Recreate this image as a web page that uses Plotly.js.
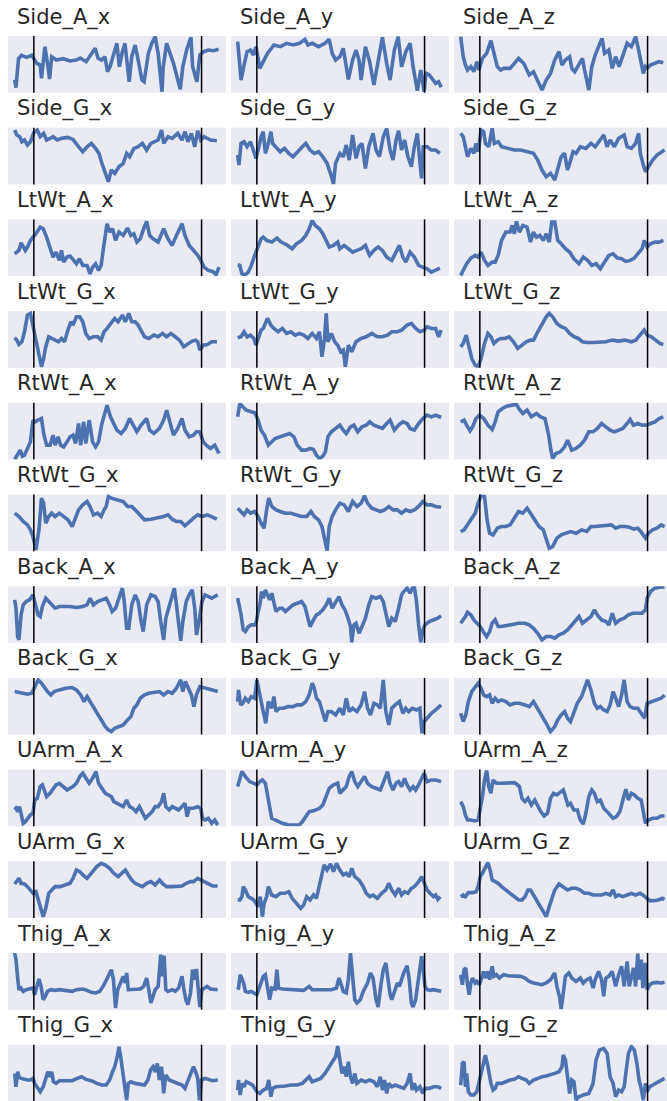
<!DOCTYPE html>
<html>
<head>
<meta charset="utf-8">
<script src="https://cdn.plot.ly/plotly-3.0.1.min.js"></script>
<style>html,body{margin:0;padding:0;background:#fff;}#chart{width:667px;height:1101px;}</style>
</head>
<body>
<div id="chart"></div>
<script>
// Panel titles (row-major, 3 per row)
const titles = [
  'Side_A_x','Side_A_y','Side_A_z','Side_G_x','Side_G_y','Side_G_z',
  'LtWt_A_x','LtWt_A_y','LtWt_A_z','LtWt_G_x','LtWt_G_y','LtWt_G_z',
  'RtWt_A_x','RtWt_A_y','RtWt_A_z','RtWt_G_x','RtWt_G_y','RtWt_G_z',
  'Back_A_x','Back_A_y','Back_A_z','Back_G_x','Back_G_y','Back_G_z',
  'UArm_A_x','UArm_A_y','UArm_A_z','UArm_G_x','UArm_G_y','UArm_G_z',
  'Thig_A_x','Thig_A_y','Thig_A_z','Thig_G_x','Thig_G_y','Thig_G_z'
];
// Event markers (sample index) drawn as vertical lines in every panel
const markers = [45, 439];

// Each series: [sample index, value] pairs (values in relative units, 0..170)
const Side_A_x = [[0,39],[3,15],[9,102],[16,112],[28,106],[40,112],[52,88],[60,83],[63,43],[71,138],[77,88],[82,41],[87,108],[98,98],[114,102],[130,95],[145,98],[154,104],[168,93],[177,112],[189,133],[196,103],[204,98],[212,108],[218,63],[224,78],[233,123],[240,148],[246,78],[252,118],[259,148],[264,78],[269,33],[275,108],[283,143],[290,98],[299,38],[304,33],[314,118],[322,148],[330,168],[337,118],[346,3],[349,78],[357,148],[365,118],[373,88],[389,10],[395,78],[404,128],[414,166],[418,78],[428,33],[435,113],[444,123],[455,128],[467,126],[479,130]];
const Side_A_y = [[0,153],[3,118],[8,38],[15,83],[22,123],[30,128],[37,113],[43,138],[52,73],[60,93],[70,118],[85,143],[100,138],[115,148],[130,143],[145,148],[158,160],[165,143],[175,148],[190,138],[205,148],[215,160],[222,118],[230,98],[240,108],[248,133],[255,78],[260,40],[270,98],[278,128],[285,98],[290,38],[300,138],[310,93],[320,23],[330,98],[340,166],[350,88],[358,38],[368,128],[377,168],[385,78],[395,123],[405,148],[412,78],[422,6],[430,68],[438,3],[442,58],[450,53],[458,38],[465,28],[472,33],[478,16]];
const Side_A_z = [[0,168],[6,108],[11,83],[16,68],[24,78],[31,63],[38,93],[43,68],[51,103],[61,118],[71,156],[79,108],[86,78],[94,68],[101,73],[116,73],[126,88],[136,103],[148,88],[161,53],[171,63],[181,38],[191,8],[201,38],[211,58],[221,98],[231,123],[238,83],[246,98],[256,108],[261,73],[268,63],[276,83],[286,103],[291,68],[301,8],[308,78],[316,113],[324,138],[332,163],[338,118],[348,128],[356,73],[364,108],[372,78],[381,113],[391,148],[401,138],[411,168],[418,128],[424,88],[429,58],[434,78],[438,73],[446,83],[456,88],[466,93],[476,90]];
const Side_G_x = [[0,163],[5,148],[12,143],[17,128],[23,133],[30,118],[37,128],[45,155],[53,163],[60,143],[68,153],[75,133],[83,138],[90,143],[100,133],[110,138],[125,141],[137,135],[150,113],[160,98],[170,113],[180,123],[190,108],[198,93],[205,63],[213,33],[220,8],[227,43],[235,33],[245,53],[255,63],[263,93],[270,83],[280,108],[290,113],[300,123],[310,103],[320,123],[330,128],[337,133],[345,163],[350,123],[360,143],[370,138],[383,153],[393,133],[400,158],[407,128],[415,153],[423,113],[430,161],[437,133],[445,143],[460,133],[475,131]];
const Side_G_y = [[0,88],[3,58],[8,123],[15,128],[22,113],[30,128],[38,98],[43,78],[50,113],[55,143],[60,158],[65,93],[72,123],[78,158],[82,123],[90,113],[100,98],[110,108],[120,93],[130,83],[140,98],[152,113],[160,123],[170,103],[180,93],[190,98],[200,83],[210,63],[218,33],[225,1],[230,63],[240,93],[248,83],[255,118],[262,73],[270,148],[278,78],[285,113],[292,123],[300,48],[308,113],[318,153],[325,103],[333,83],[342,143],[350,168],[358,103],[365,73],[372,133],[378,161],[385,103],[392,133],[400,83],[408,53],[415,113],[422,153],[428,68],[432,18],[436,113],[445,113],[455,103],[465,103],[475,93]];
const Side_G_z = [[0,153],[6,143],[11,113],[16,83],[24,108],[31,93],[36,123],[41,98],[48,163],[54,158],[58,123],[66,113],[74,168],[79,123],[88,128],[96,113],[111,108],[126,103],[141,103],[156,98],[171,93],[181,73],[191,43],[201,23],[211,33],[221,13],[228,43],[236,83],[244,93],[251,43],[256,63],[264,98],[271,93],[281,113],[294,108],[306,123],[316,113],[326,133],[336,148],[344,113],[351,133],[361,113],[371,138],[384,148],[391,113],[401,108],[411,123],[418,153],[422,93],[428,63],[434,38],[441,53],[451,73],[461,88],[471,98],[479,103]];
const LtWt_A_x = [[0,67],[5,72],[10,77],[15,100],[20,87],[25,77],[30,87],[37,107],[43,117],[50,127],[60,147],[67,142],[75,117],[83,87],[90,57],[97,72],[105,47],[110,77],[115,42],[123,57],[130,60],[137,50],[145,37],[152,52],[160,32],[170,32],[177,7],[183,27],[190,37],[197,17],[203,32],[210,97],[217,157],[223,132],[230,142],[237,107],[245,132],[255,122],[265,144],[273,122],[280,127],[287,102],[295,112],[303,142],[310,164],[317,122],[325,112],[337,102],[350,142],[360,112],[370,92],[380,122],[393,157],[400,122],[410,92],[420,77],[430,62],[437,47],[445,27],[455,17],[465,14],[473,4],[480,27]];
const LtWt_A_y = [[0,34],[5,32],[10,7],[18,4],[25,12],[32,32],[40,62],[48,92],[55,112],[60,117],[68,107],[80,102],[92,114],[102,102],[115,94],[128,82],[138,97],[150,107],[160,122],[168,142],[175,167],[182,152],[192,142],[200,127],[208,102],[215,87],[225,92],[235,102],[240,82],[250,92],[260,82],[270,72],[280,77],[290,82],[300,92],[310,62],[320,77],[330,87],[340,77],[350,57],[362,47],[370,67],[380,92],[388,57],[395,42],[405,72],[415,57],[425,32],[435,27],[445,22],[455,12],[465,17],[475,24]];
const LtWt_A_z = [[0,2],[6,17],[14,37],[24,54],[34,62],[41,57],[48,72],[56,47],[64,32],[74,42],[81,42],[88,62],[96,107],[106,132],[116,132],[121,152],[126,127],[131,164],[138,132],[146,152],[156,147],[164,102],[171,132],[178,117],[186,122],[194,107],[201,127],[208,102],[214,162],[221,162],[228,107],[236,97],[246,82],[256,72],[266,52],[278,37],[288,57],[298,47],[308,32],[318,37],[328,22],[338,42],[348,62],[358,67],[368,54],[378,52],[388,44],[398,47],[408,54],[416,67],[426,82],[431,107],[438,87],[446,97],[456,102],[466,102],[476,107]];
const LtWt_G_x = [[0,90],[5,83],[10,70],[17,78],[23,108],[30,158],[37,163],[43,128],[50,78],[57,43],[63,3],[68,28],[73,63],[80,93],[87,88],[95,83],[103,78],[110,88],[117,78],[125,113],[132,138],[137,128],[145,153],[153,153],[160,138],[167,103],[175,88],[185,93],[195,93],[203,83],[210,108],[217,118],[227,133],[235,148],[243,138],[253,158],[260,138],[268,163],[275,138],[283,138],[290,128],[297,113],[305,93],[315,88],[327,98],[337,93],[347,103],[357,93],[367,103],[377,93],[387,83],[397,63],[407,73],[417,80],[425,83],[430,78],[435,53],[443,68],[453,70],[463,78],[475,78]];
const LtWt_G_y = [[0,90],[8,93],[15,108],[22,93],[30,98],[38,88],[43,68],[48,88],[55,113],[60,118],[70,148],[78,128],[85,118],[95,108],[105,118],[115,103],[125,108],[135,98],[145,103],[155,98],[165,88],[175,103],[185,88],[192,108],[198,33],[204,88],[208,163],[212,78],[220,103],[228,78],[235,68],[242,48],[248,53],[253,3],[260,68],[268,48],[278,78],[290,88],[302,93],[315,103],[328,93],[340,93],[352,98],[362,108],[375,108],[385,113],[398,128],[408,133],[418,118],[428,108],[438,113],[445,123],[455,118],[465,118],[472,93],[478,113]];
const LtWt_G_z = [[0,63],[6,73],[13,98],[19,63],[26,28],[34,8],[41,3],[48,28],[56,73],[64,103],[71,93],[78,73],[86,83],[94,88],[104,88],[114,93],[124,78],[134,58],[144,68],[154,78],[164,83],[171,83],[181,108],[191,133],[201,153],[208,163],[216,153],[226,133],[236,123],[246,118],[256,103],[266,93],[276,88],[286,78],[296,76],[311,76],[326,78],[341,78],[356,83],[371,80],[386,83],[401,78],[411,83],[421,98],[431,113],[438,98],[448,93],[458,83],[468,73],[476,70]];
const RtWt_A_x = [[0,0],[5,13],[13,28],[18,10],[23,13],[30,33],[37,53],[43,118],[48,113],[55,118],[63,123],[68,78],[75,43],[83,43],[90,73],[95,43],[102,68],[108,43],[115,38],[123,53],[130,68],[137,73],[143,48],[150,108],[155,43],[162,113],[167,48],[175,118],[183,53],[190,38],[197,53],[205,108],[213,148],[217,163],[225,128],[233,103],[240,88],[250,78],[260,93],[270,123],[278,103],[287,83],[297,103],[310,123],[317,88],[327,78],[340,93],[350,118],[357,148],[363,118],[373,73],[383,93],[393,123],[400,88],[410,68],[420,73],[427,83],[435,83],[443,53],[450,43],[460,33],[470,43],[480,18]];
const RtWt_A_y = [[0,128],[5,168],[12,158],[20,148],[32,143],[40,140],[48,118],[55,88],[63,73],[72,43],[80,53],[88,63],[100,68],[112,73],[122,78],[132,68],[140,43],[150,28],[160,28],[170,33],[178,30],[185,13],[192,3],[200,10],[206,23],[212,68],[220,83],[230,93],[240,103],[248,88],[255,78],[265,98],[273,103],[282,83],[292,98],[302,103],[310,113],[320,103],[330,98],[340,93],[350,108],[358,118],[368,88],[378,103],[388,113],[398,108],[405,93],[415,88],[425,108],[435,123],[445,133],[455,128],[465,133],[478,126]];
const RtWt_A_z = [[0,113],[8,118],[14,103],[22,86],[28,98],[36,123],[44,133],[54,123],[64,103],[74,90],[81,113],[88,143],[98,153],[108,160],[121,163],[131,165],[138,150],[146,138],[156,148],[166,128],[178,138],[188,128],[198,123],[206,78],[212,28],[216,3],[224,18],[234,23],[244,38],[251,58],[261,28],[271,33],[281,43],[291,58],[301,83],[311,83],[321,93],[331,108],[341,98],[351,88],[361,83],[371,88],[381,93],[391,108],[398,120],[406,103],[416,108],[426,103],[436,103],[446,108],[456,113],[466,123],[476,128]];
const RtWt_G_x = [[0,114],[10,104],[20,89],[30,79],[37,64],[43,44],[50,4],[57,64],[63,159],[68,144],[73,84],[80,104],[87,114],[95,104],[105,114],[115,104],[125,94],[135,74],[143,99],[150,124],[160,139],[170,149],[177,134],[185,109],[195,114],[203,104],[210,124],[215,134],[220,164],[227,159],[240,154],[255,149],[265,134],[275,134],[283,124],[293,109],[305,94],[320,96],[335,99],[350,104],[360,109],[370,96],[380,89],[390,89],[400,76],[410,89],[420,99],[430,109],[440,104],[453,109],[463,104],[475,96]];
const RtWt_G_y = [[0,129],[8,119],[15,109],[22,124],[30,114],[40,119],[48,104],[55,84],[62,69],[68,124],[73,159],[80,134],[90,124],[100,119],[112,114],[125,114],[138,109],[150,104],[162,104],[172,119],[180,104],[190,94],[198,74],[205,34],[210,2],[215,74],[222,104],[230,124],[240,144],[250,139],[260,119],[270,149],[280,134],[290,144],[298,166],[305,144],[315,129],[325,124],[335,119],[345,124],[355,134],[365,124],[375,124],[385,114],[395,124],[405,119],[415,124],[425,134],[435,149],[445,139],[455,139],[465,134],[478,132]];
const RtWt_G_z = [[0,59],[8,64],[16,79],[24,94],[34,114],[41,144],[48,166],[56,164],[62,94],[68,54],[76,49],[86,69],[96,74],[106,74],[116,79],[126,99],[136,119],[146,114],[156,129],[164,114],[174,94],[184,74],[194,64],[201,34],[208,9],[216,14],[226,39],[236,49],[246,54],[258,59],[271,54],[284,64],[296,59],[306,74],[316,74],[328,76],[341,79],[354,79],[364,69],[374,74],[386,74],[396,72],[406,66],[416,69],[426,54],[434,39],[441,54],[451,64],[461,69],[471,79],[479,74]];
const Back_A_x = [[0,129],[3,104],[7,19],[10,9],[15,84],[20,114],[27,124],[35,129],[43,144],[50,114],[55,84],[60,79],[65,109],[73,134],[80,124],[87,114],[95,104],[105,109],[115,109],[130,109],[145,106],[160,109],[170,114],[177,134],[185,114],[195,124],[205,129],[215,134],[223,114],[229,94],[237,104],[245,134],[253,164],[257,129],[263,44],[268,44],[275,114],[283,144],[290,124],[297,64],[302,34],[310,114],[320,144],[330,139],[337,124],[343,64],[350,9],[355,74],[363,114],[370,149],[375,164],[380,114],[385,54],[390,6],[395,64],[403,124],[410,144],[417,159],[423,104],[427,24],[433,64],[440,124],[447,144],[455,139],[463,134],[470,139],[477,144]];
const Back_A_y = [[0,134],[2,124],[8,84],[13,39],[18,34],[25,49],[32,54],[40,54],[44,64],[48,94],[52,114],[56,154],[60,134],[65,159],[70,144],[75,129],[80,149],[85,114],[90,94],[98,104],[105,104],[112,94],[120,104],[130,114],[140,119],[150,124],[158,109],[165,74],[170,49],[178,69],[185,84],[192,89],[200,99],[208,114],[215,134],[222,104],[230,124],[238,139],[245,114],[252,99],[258,79],[265,49],[268,2],[273,54],[278,59],[285,29],[292,49],[300,74],[308,114],[315,139],[325,134],[335,139],[342,124],[348,89],[355,49],[362,74],[370,64],[378,104],[385,144],[390,154],[398,164],[405,149],[410,164],[415,168],[420,124],[425,54],[430,2],[435,39],[440,54],[450,64],[460,69],[470,74],[478,81]];
const Back_A_z = [[0,59],[6,69],[11,79],[16,92],[24,84],[31,69],[38,59],[46,49],[54,32],[61,19],[68,34],[74,59],[81,69],[88,49],[96,49],[108,52],[121,54],[136,59],[151,59],[161,54],[171,44],[181,29],[191,9],[201,19],[211,19],[221,14],[231,24],[241,29],[251,39],[261,54],[271,69],[278,79],[286,59],[296,69],[306,79],[314,99],[321,84],[331,69],[341,64],[348,54],[356,89],[364,59],[374,69],[384,74],[394,84],[404,89],[416,89],[426,89],[434,99],[438,134],[446,154],[456,164],[466,167],[479,168]];
const Back_G_x = [[0,129],[10,127],[20,124],[30,121],[40,124],[47,144],[55,164],[63,154],[70,139],[77,129],[85,119],[93,129],[105,134],[120,139],[135,141],[145,134],[155,119],[163,99],[170,114],[177,99],[187,79],[197,59],[205,39],[213,24],[220,14],[227,9],[235,19],[245,24],[255,29],[265,44],[273,54],[280,79],[287,89],[295,109],[305,119],[315,124],[327,127],[340,129],[350,119],[360,129],[370,124],[380,139],[390,164],[395,129],[401,159],[407,144],[415,119],[421,84],[427,119],[435,144],[445,141],[455,137],[465,134],[477,129]];
const Back_G_y = [[0,99],[2,134],[7,89],[12,94],[18,109],[25,99],[32,114],[40,109],[45,164],[50,129],[55,99],[60,69],[66,34],[72,99],[80,79],[85,114],[90,69],[98,79],[108,79],[118,84],[130,84],[140,89],[150,89],[160,99],[168,119],[175,154],[180,139],[185,109],[192,99],[200,69],[206,39],[212,69],[220,69],[230,59],[240,79],[248,59],[255,109],[262,69],[270,79],[280,69],[290,89],[298,129],[305,79],[312,59],[320,94],[328,89],[335,79],[342,164],[348,69],[355,29],[362,79],[370,89],[380,99],[388,64],[395,79],[402,69],[410,79],[420,74],[428,79],[433,4],[438,39],[445,49],[455,64],[465,74],[478,89]];
const Back_G_z = [[0,64],[6,39],[12,59],[18,99],[26,129],[34,144],[41,154],[48,139],[54,119],[61,114],[68,119],[74,94],[81,109],[88,99],[96,104],[106,99],[116,89],[126,94],[138,94],[151,89],[161,84],[171,99],[178,84],[186,69],[194,54],[201,34],[211,9],[221,24],[228,44],[236,59],[244,69],[251,49],[258,39],[266,69],[274,94],[284,114],[291,139],[298,164],[306,134],[314,94],[321,79],[328,84],[336,74],[344,69],[351,89],[358,129],[364,109],[371,84],[378,119],[384,164],[391,99],[398,84],[406,79],[416,79],[424,64],[432,49],[438,94],[448,99],[461,104],[471,109],[479,119]];
const UArm_A_x = [[0,49],[3,54],[7,44],[11,59],[15,39],[20,9],[25,14],[30,24],[37,34],[43,39],[47,79],[53,84],[60,119],[65,124],[70,104],[75,89],[83,99],[90,114],[97,124],[105,129],[115,119],[123,109],[130,114],[137,119],[145,129],[153,149],[160,159],[167,144],[175,129],[183,144],[191,164],[197,129],[205,114],[213,99],[220,94],[227,89],[233,74],[240,69],[248,64],[255,59],[263,79],[270,59],[277,54],[285,44],[293,59],[300,44],[307,24],[315,34],[323,44],[330,59],[337,59],[345,74],[350,99],[355,59],[363,49],[370,59],[377,54],[385,49],[393,59],[400,69],[405,29],[410,54],[420,54],[430,59],[437,54],[441,24],[447,19],[455,24],[463,9],[470,19],[477,4]];
const UArm_A_y = [[0,119],[5,139],[10,164],[18,149],[28,134],[38,129],[45,124],[52,134],[58,139],[65,129],[70,89],[75,49],[80,24],[88,19],[95,14],[105,9],[120,4],[135,4],[145,4],[152,14],[160,29],[168,44],[180,47],[192,54],[200,64],[205,79],[210,99],[215,114],[225,124],[235,129],[240,99],[248,109],[255,119],[262,149],[268,164],[275,134],[282,119],[290,134],[298,149],[305,129],[315,119],[325,114],[335,109],[340,124],[345,139],[352,164],[358,129],[365,109],[372,129],[378,134],[385,119],[392,144],[398,124],[405,109],[412,119],[418,109],[425,124],[432,144],[438,159],[445,134],[455,139],[465,139],[478,134]];
const UArm_A_z = [[0,74],[6,59],[11,34],[16,19],[24,19],[34,16],[41,19],[46,49],[51,89],[56,139],[61,167],[66,119],[71,99],[76,139],[84,129],[96,129],[111,131],[126,131],[134,124],[138,119],[144,84],[151,74],[158,84],[166,64],[174,79],[181,59],[188,44],[196,31],[204,39],[211,84],[218,99],[226,94],[234,104],[241,109],[246,89],[252,64],[258,69],[266,49],[274,49],[281,19],[288,7],[294,39],[301,89],[308,109],[314,99],[321,74],[328,79],[336,54],[344,44],[351,34],[358,24],[366,29],[374,44],[381,79],[388,111],[394,79],[401,99],[408,94],[416,84],[424,79],[429,44],[434,9],[441,19],[451,24],[461,24],[471,31],[479,31]];
const UArm_G_x = [[0,102],[5,109],[10,119],[15,104],[23,102],[30,94],[37,84],[43,74],[50,79],[55,54],[60,29],[67,4],[73,29],[80,74],[87,84],[95,94],[107,94],[120,99],[130,104],[137,119],[145,144],[153,139],[160,129],[170,119],[177,129],[185,139],[193,154],[203,164],[213,159],[223,149],[233,134],[243,124],[253,134],[260,144],[267,129],[275,114],[283,104],[290,99],[300,94],[310,104],[320,109],[330,99],[340,114],[347,104],[357,94],[370,94],[383,94],[393,96],[403,104],[413,109],[420,109],[430,119],[437,114],[445,109],[455,104],[465,96],[477,96]];
const UArm_G_y = [[0,54],[5,54],[10,64],[13,94],[18,84],[25,64],[32,59],[38,54],[43,44],[48,34],[53,64],[58,4],[62,44],[68,64],[72,94],[80,69],[90,64],[100,74],[110,74],[120,79],[128,59],[138,44],[148,29],[155,39],[162,64],[170,54],[178,69],[185,59],[192,94],[198,134],[203,159],[210,144],[218,162],[225,139],[232,164],[240,144],[248,129],[255,134],[262,124],[268,149],[275,124],[285,114],[295,94],[302,74],[310,64],[318,69],[328,59],[338,74],[348,84],[355,104],[362,84],[370,69],[378,89],[385,69],[392,79],[400,74],[408,89],[415,94],[425,109],[432,124],[438,104],[445,84],[452,74],[460,64],[465,69],[470,56],[476,64]];
const UArm_G_z = [[0,64],[6,69],[11,64],[18,76],[28,76],[36,79],[41,94],[46,124],[51,134],[58,149],[64,166],[69,144],[74,114],[81,109],[88,104],[96,94],[106,84],[116,74],[126,64],[136,54],[144,54],[151,64],[158,84],[164,84],[171,69],[178,54],[186,39],[194,24],[201,4],[208,34],[214,59],[221,84],[231,102],[241,94],[251,84],[261,89],[271,89],[281,84],[291,74],[301,74],[311,69],[321,69],[331,69],[341,74],[351,69],[358,84],[364,64],[371,69],[381,64],[391,69],[401,74],[411,69],[421,74],[428,69],[436,59],[444,52],[454,52],[464,54],[474,59],[479,56]];
const Thig_A_x = [[0,170],[3,150],[7,95],[10,60],[15,65],[20,55],[27,60],[35,62],[43,65],[47,45],[53,80],[57,92],[62,70],[67,30],[72,40],[77,55],[85,60],[95,58],[105,60],[120,58],[135,55],[145,60],[160,62],[170,58],[180,52],[190,50],[200,55],[210,75],[220,100],[227,120],[232,90],[237,5],[242,60],[248,80],[255,100],[260,80],[263,110],[267,60],[275,60],[285,60],[295,62],[303,70],[310,95],[315,60],[320,20],[325,40],[330,60],[337,70],[343,165],[347,100],[351,162],[355,60],[360,55],[370,60],[377,55],[385,65],[393,100],[397,65],[402,30],[407,15],[413,50],[418,120],[423,90],[427,122],[431,70],[435,8],[440,60],[445,65],[452,70],[460,62],[470,60],[477,60]];
const Thig_A_y = [[0,60],[2,65],[6,105],[10,90],[14,80],[18,55],[25,52],[32,55],[40,50],[45,45],[52,70],[60,100],[65,105],[70,60],[75,30],[80,65],[88,62],[92,120],[96,65],[105,62],[120,60],[140,60],[155,58],[168,70],[175,60],[190,60],[205,60],[220,60],[232,65],[238,95],[242,80],[248,55],[255,50],[260,90],[265,170],[270,90],[275,30],[280,20],[288,30],[295,55],[305,80],[312,110],[318,95],[325,30],[330,8],[336,70],[342,120],[348,140],[353,90],[358,45],[362,30],[368,50],[375,80],[380,70],[385,90],[390,110],[398,132],[403,90],[408,20],[412,8],[418,30],[422,70],[428,140],[432,160],[436,120],[440,70],[445,60],[452,58],[460,60],[468,58],[478,55]];
const Thig_A_z = [[0,105],[4,75],[8,120],[12,125],[16,75],[20,45],[24,80],[28,95],[34,80],[38,85],[44,75],[48,90],[54,115],[58,95],[64,115],[68,90],[74,130],[78,100],[84,105],[91,95],[101,105],[111,102],[126,102],[141,100],[151,95],[161,85],[171,80],[181,78],[191,75],[201,80],[211,90],[221,110],[226,70],[232,40],[236,2],[241,50],[246,100],[254,110],[261,95],[271,85],[281,95],[288,80],[296,90],[304,95],[311,65],[316,90],[324,115],[331,90],[336,40],[341,95],[348,100],[356,115],[364,70],[371,105],[378,130],[384,70],[391,145],[396,70],[401,105],[406,125],[411,70],[416,168],[419,90],[424,150],[428,65],[433,140],[438,60],[444,75],[451,80],[461,82],[471,80],[479,82]];
const Thig_G_x = [[0,84],[3,44],[7,89],[10,74],[15,69],[23,66],[30,64],[37,64],[43,69],[47,54],[53,44],[60,29],[67,44],[73,74],[78,89],[83,74],[87,89],[91,59],[97,54],[105,62],[120,62],[135,62],[147,69],[157,74],[167,66],[180,62],[193,54],[205,49],[215,49],[223,64],[230,89],[235,104],[241,134],[245,164],[249,134],[255,84],[259,44],[263,4],[267,54],[273,59],[283,54],[295,52],[305,49],[313,64],[319,94],[325,104],[330,89],[335,114],[340,64],[345,104],[350,24],[355,79],[363,64],[373,59],[383,54],[393,49],[400,39],[407,64],[413,84],[420,104],[425,89],[430,69],[434,4],[439,64],[447,69],[457,64],[465,62],[477,64]];
const Thig_G_y = [[0,34],[2,64],[6,19],[10,54],[15,44],[20,59],[28,54],[35,49],[40,39],[45,29],[52,24],[60,34],[68,39],[73,64],[78,14],[82,39],[90,44],[100,44],[112,46],[125,49],[140,49],[152,54],[160,64],[168,74],[175,59],[185,64],[195,69],[205,84],[215,104],[222,119],[230,134],[235,166],[240,129],[245,84],[250,104],[255,74],[260,119],[265,74],[270,54],[275,84],[280,54],[290,64],[300,59],[310,64],[320,59],[328,44],[335,74],[340,34],[345,64],[350,24],[355,54],[362,44],[370,49],[380,44],[390,39],[398,54],[405,84],[410,34],[415,54],[420,34],[428,44],[435,24],[440,39],[450,39],[460,44],[470,44],[478,39]];
const Thig_G_z = [[0,49],[4,114],[8,119],[11,44],[14,84],[18,29],[24,19],[31,19],[38,29],[44,64],[51,104],[58,139],[64,104],[71,54],[76,34],[81,39],[86,54],[96,54],[106,59],[116,64],[126,66],[136,74],[144,69],[154,64],[161,54],[171,64],[181,69],[191,74],[201,76],[211,79],[221,84],[231,89],[238,104],[241,139],[246,124],[251,74],[256,24],[261,64],[266,59],[271,4],[278,14],[288,19],[301,24],[311,54],[318,124],[326,154],[336,159],[344,144],[351,74],[358,54],[364,14],[371,34],[378,29],[384,44],[388,79],[394,144],[401,164],[408,154],[414,114],[419,64],[424,39],[429,4],[434,54],[438,29],[444,44],[451,49],[461,59],[471,66],[479,69]];

const series = [
  Side_A_x, Side_A_y, Side_A_z, Side_G_x, Side_G_y, Side_G_z,
  LtWt_A_x, LtWt_A_y, LtWt_A_z, LtWt_G_x, LtWt_G_y, LtWt_G_z,
  RtWt_A_x, RtWt_A_y, RtWt_A_z, RtWt_G_x, RtWt_G_y, RtWt_G_z,
  Back_A_x, Back_A_y, Back_A_z, Back_G_x, Back_G_y, Back_G_z,
  UArm_A_x, UArm_A_y, UArm_A_z, UArm_G_x, UArm_G_y, UArm_G_z,
  Thig_A_x, Thig_A_y, Thig_A_z, Thig_G_x, Thig_G_y, Thig_G_z
];

// ---- layout geometry (pixels) ----
const W = 667, H = 1101;
const colLeft = [8, 231, 454];
const panelW = 218;
const rowTop0 = 36, rowPitch = 91.7, panelH = 56.7;
const xr0 = -15.7, xSpan = 512.1; // axis range across full panel width
const yRange = [0, 170];

const traces = [];
const layout = {
  width: W, height: H,
  margin: {l: 0, r: 0, t: 0, b: 0},
  paper_bgcolor: '#ffffff',
  plot_bgcolor: '#EAEAF2',
  showlegend: false,
  shapes: [],
  annotations: []
};

series.forEach((s, i) => {
  const n = i + 1;
  const row = Math.floor(i / 3), col = i % 3;
  const xa = n === 1 ? 'x' : 'x' + n;
  const ya = n === 1 ? 'y' : 'y' + n;
  const left = colLeft[col];
  const right = Math.min(left + panelW, W);
  const top = rowTop0 + row * rowPitch;
  const bottom = Math.min(top + panelH, H);
  const xRange = [xr0, xr0 + xSpan * (right - left) / panelW];
  const yr = [yRange[1] - (yRange[1] - yRange[0]) * (bottom - top) / panelH, yRange[1]];

  traces.push({
    type: 'scatter', mode: 'lines',
    x: s.map(p => p[0]), y: s.map(p => p[1]),
    xaxis: xa, yaxis: ya,
    line: {color: '#4C72B0', width: 3.6, shape: 'linear'},
    hoverinfo: 'skip'
  });

  const axCommon = {showgrid: false, zeroline: false, showticklabels: false, ticks: '', showline: false, fixedrange: true};
  layout[n === 1 ? 'xaxis' : 'xaxis' + n] = Object.assign({}, axCommon, {
    domain: [left / W, right / W], range: xRange, anchor: ya
  });
  layout[n === 1 ? 'yaxis' : 'yaxis' + n] = Object.assign({}, axCommon, {
    domain: [1 - bottom / H, 1 - top / H], range: yr, anchor: xa
  });

  markers.forEach(m => {
    layout.shapes.push({
      type: 'line', xref: xa, yref: ya + ' domain',
      x0: m, x1: m, y0: 0, y1: 1,
      line: {color: '#000000', width: 1.5}
    });
  });

  layout.annotations.push({
    text: titles[i], xref: 'paper', yref: 'paper',
    x: (left + 7) / W, y: 1 - (top - 19) / H,
    xanchor: 'left', yanchor: 'middle', showarrow: false,
    font: {family: 'DejaVu Sans', size: 21, color: '#262626'}
  });
});

Plotly.newPlot('chart', traces, layout, {staticPlot: true, displayModeBar: false});
</script>
</body>
</html>
